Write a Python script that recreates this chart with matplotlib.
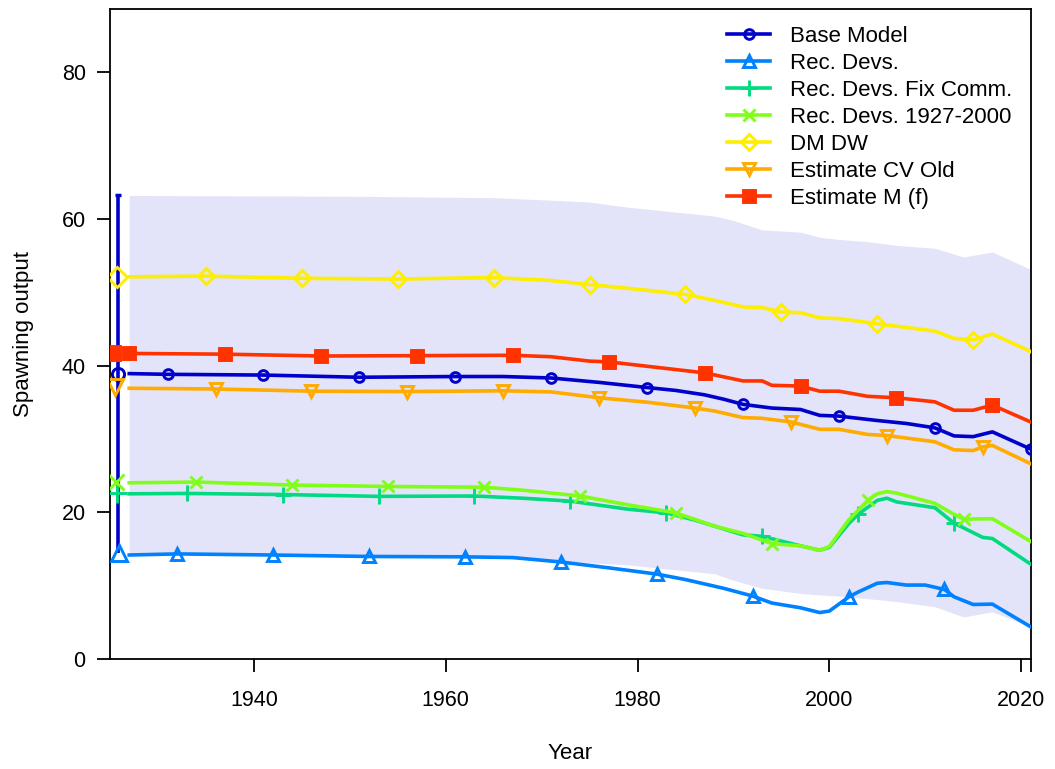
import numpy as np
import matplotlib
matplotlib.use("Agg")
import matplotlib.pyplot as plt

plt.rcParams['font.family'] = ['Liberation Sans', 'DejaVu Sans']

# spawning output by model (years, values)
yrs_base = [1927, 1931, 1941, 1951, 1961, 1966, 1971, 1976, 1981, 1984, 1987, 1989, 1991,
            1994, 1997, 1999, 2001, 2005, 2008, 2011, 2013, 2015, 2017, 2021]
ssb_base = [38.9, 38.8, 38.7, 38.4, 38.5, 38.5, 38.3, 37.7, 37.0, 36.6, 36.0, 35.4, 34.7,
            34.2, 34.0, 33.2, 33.1, 32.5, 32.1, 31.5, 30.4, 30.3, 30.95, 28.6]

yrs_recdev = [1927, 1932, 1942, 1952, 1962, 1967, 1972, 1977, 1982, 1985, 1989, 1992, 1994,
              1997, 1999, 2000, 2002, 2003, 2005, 2006, 2008, 2010, 2012, 2013, 2015, 2017, 2021]
ssb_recdev = [14.15, 14.3, 14.15, 13.95, 13.9, 13.8, 13.2, 12.4, 11.55, 10.8, 9.6, 8.55, 7.6,
              6.95, 6.3, 6.5, 8.4, 9.1, 10.3, 10.4, 10.05, 10.05, 9.45, 8.45, 7.4, 7.45, 4.35]

yrs_fixcomm = [1927, 1933, 1943, 1953, 1963, 1968, 1973, 1979, 1983, 1986, 1988, 1991, 1993,
               1997, 1999, 2000, 2002, 2003, 2005, 2006, 2007, 2011, 2013, 2016, 2017, 2021]
ssb_fixcomm = [22.5, 22.55, 22.4, 22.15, 22.2, 21.9, 21.5, 20.4, 19.9, 18.9, 18.1, 16.9, 16.7,
               15.4, 14.8, 15.2, 18.4, 19.7, 21.6, 21.9, 21.4, 20.6, 18.5, 16.55, 16.4, 12.9]

yrs_rd2000 = [1927, 1934, 1944, 1954, 1964, 1968, 1974, 1979, 1984, 1986, 1988, 1991, 1994,
              1997, 1999, 2000, 2002, 2004, 2005, 2006, 2007, 2011, 2013, 2014, 2017, 2021]
ssb_rd2000 = [24.0, 24.1, 23.7, 23.5, 23.4, 23.0, 22.2, 21.0, 19.9, 19.0, 18.1, 17.1, 15.7,
              15.4, 14.8, 15.3, 18.9, 21.6, 22.5, 22.8, 22.6, 21.2, 19.7, 19.05, 19.1, 16.0]

yrs_dmdw = [1927, 1935, 1945, 1955, 1965, 1971, 1975, 1980, 1985, 1988, 1991, 1993, 1995,
            1997, 1999, 2001, 2005, 2011, 2013, 2015, 2017, 2021]
ssb_dmdw = [52.1, 52.2, 51.9, 51.8, 52.0, 51.6, 51.05, 50.4, 49.7, 48.9, 48.0, 47.9, 47.3,
            47.2, 46.5, 46.4, 45.7, 44.7, 43.7, 43.5, 44.3, 41.9]

yrs_cvold = [1927, 1936, 1946, 1956, 1966, 1971, 1976, 1981, 1986, 1988, 1991, 1993, 1996,
             1999, 2001, 2004, 2006, 2011, 2013, 2015, 2016, 2017, 2021]
ssb_cvold = [36.9, 36.8, 36.5, 36.45, 36.55, 36.4, 35.6, 35.0, 34.2, 33.8, 32.9, 32.8, 32.3,
             31.3, 31.3, 30.6, 30.45, 29.6, 28.5, 28.4, 28.9, 29.1, 26.6]

yrs_estm = [1927, 1937, 1947, 1957, 1967, 1971, 1975, 1977, 1981, 1987, 1991, 1993, 1994,
            1997, 1999, 2001, 2004, 2007, 2011, 2013, 2015, 2017, 2021]
ssb_estm = [41.65, 41.55, 41.3, 41.35, 41.4, 41.2, 40.6, 40.5, 39.9, 39.0, 37.9, 37.9, 37.3,
            37.2, 36.5, 36.5, 35.8, 35.6, 35.05, 33.9, 33.9, 34.6, 32.3]

# unfished values and the base model interval
virgin = [38.9, 14.4, 22.6, 24.1, 52.1, 37.1, 41.65]
virgin_x = [1925.87, 1925.94, 1925.7, 1925.65, 1925.7, 1925.5, 1925.35]
virgin_ci = [14.4, 63.3]

yrs_ci = [1927, 1950, 1965, 1972, 1975, 1979, 1985, 1988, 1990, 1993, 1997, 1999, 2001,
          2004, 2007, 2011, 2014, 2017, 2021]
ci_hi = [63.2, 63.1, 62.9, 62.5, 62.3, 61.6, 60.8, 60.4, 59.8, 58.5, 58.2, 57.5, 57.2,
         56.9, 56.4, 56.0, 54.8, 55.5, 53.1]
ci_lo = [14.3, 14.1, 14.0, 13.4, 13.1, 12.8, 12.0, 11.6, 10.7, 9.6, 8.9, 8.7, 8.55,
         8.2, 7.8, 7.1, 5.7, 6.4, 4.35]

labels = ['Base Model', 'Rec. Devs.', 'Rec. Devs. Fix Comm.', 'Rec. Devs. 1927-2000',
          'DM DW', 'Estimate CV Old', 'Estimate M (f)']
colors = ['#0000CB', '#0081FF', '#02DA81', '#80FE1A', '#FDEE02', '#FFAB00', '#FF3300']
markers = ['o', '^', '+', 'x', 'D', 'v', 's']
msizes = [7, 9, 11, 9, 8.5, 9, 8]
first_mark = [1931, 1932, 1933, 1934, 1935, 1936, 1927]

series = [(yrs_base, ssb_base), (yrs_recdev, ssb_recdev), (yrs_fixcomm, ssb_fixcomm),
          (yrs_rd2000, ssb_rd2000), (yrs_dmdw, ssb_dmdw), (yrs_cvold, ssb_cvold),
          (yrs_estm, ssb_estm)]

fig = plt.figure(figsize=(10.55, 7.69), dpi=100)
ax = fig.add_axes([0.1043, 0.1434, 0.8727, 0.8445])

ax.fill_between(yrs_ci, ci_lo, ci_hi, color='#0000CB', alpha=0.11, lw=0, zorder=1)
ax.plot([virgin_x[0]] * 2, virgin_ci, color=colors[0], lw=2.6, zorder=2,
        solid_capstyle='butt')
ax.plot([virgin_x[0]], [virgin_ci[1]], marker='_', ms=5, mew=2.5, color=colors[0], zorder=2)

handles = []
for i, (yy, vv) in enumerate(series):
    marks = [k for k, y in enumerate(yy) if (y - first_mark[i]) % 10 == 0]
    fill = colors[i] if markers[i] == 's' else 'none'
    h, = ax.plot(yy, vv, color=colors[i], lw=2.6, marker=markers[i], ms=msizes[i],
                 mfc=fill, mec=colors[i], mew=2.1, markevery=marks, zorder=3,
                 solid_joinstyle='round', label=labels[i])
    handles.append(h)
    ax.plot([virgin_x[i]], [virgin[i]], marker=markers[i], ms=msizes[i] * 1.25,
            mfc=fill, mec=colors[i], mew=2.1, color=colors[i], zorder=4)

ax.set_xlim(1925, 2021)
ax.set_ylim(0, 88.6)
ax.set_xticks([1940, 1960, 1980, 2000, 2020])
ax.set_xticks([2021], minor=True)
ax.set_yticks([0, 20, 40, 60, 80])
ax.tick_params(axis='both', which='both', direction='out', length=9.5, width=1.3,
               labelsize=15.5, pad=8)
ax.tick_params(axis='x', pad=13)
for s in ax.spines.values():
    s.set_linewidth(1.3)

ax.set_xlabel('Year', fontsize=16, labelpad=23)
ax.set_ylabel('Spawning output', fontsize=16, labelpad=20)

fig.legend(handles=handles, loc='upper left', bbox_to_anchor=(0.689, 0.966),
           frameon=False, fontsize=16, handlelength=1.95, handletextpad=0.9,
           labelspacing=0.27, borderpad=0, borderaxespad=0)

fig.savefig('out.png', dpi=100)
